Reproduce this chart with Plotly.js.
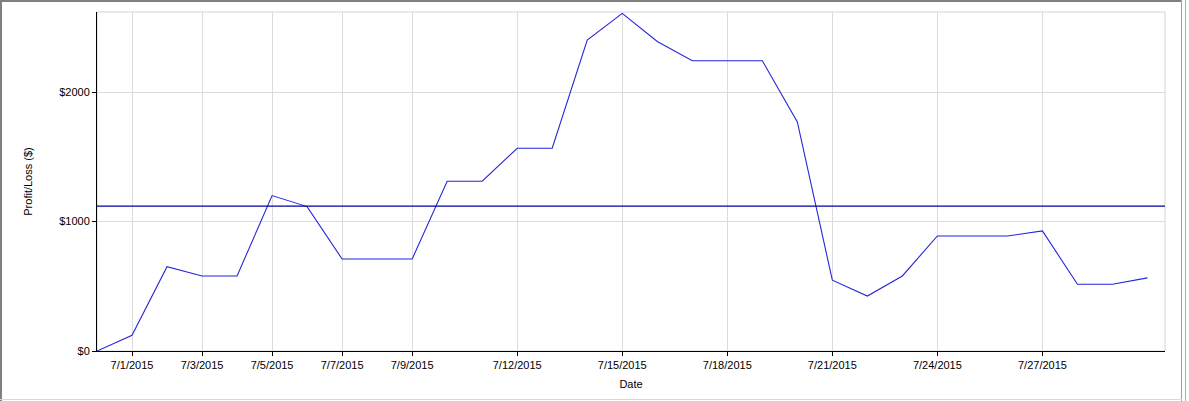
<!DOCTYPE html>
<html>
<head>
<meta charset="utf-8">
<script src="https://cdn.plot.ly/plotly-3.0.1.min.js"></script>
<style>
  html, body { margin: 0; padding: 0; background: #fff; overflow: hidden; }
  #wrap { position: relative; width: 1189px; height: 401px; }
  #chart { position: absolute; left: 0; top: 0; width: 1189px; height: 401px; }
  .fr { position: absolute; pointer-events: none; }
</style>
</head>
<body>
<div id="wrap">
  <div id="chart"></div>
  <div class="fr" style="left:0;top:0;width:1182px;height:2px;background:#808080;"></div>
  <div class="fr" style="left:0;top:0;width:2px;height:401px;background:#808080;"></div>
  <div class="fr" style="left:1181px;top:0;width:1px;height:401px;background:#a0a0a0;"></div>
  <div class="fr" style="left:1185px;top:0;width:1px;height:401px;background:#b0b0b0;"></div>
  <div class="fr" style="left:0;top:399px;width:1182px;height:1px;background:#d8d8d8;"></div>
</div>
<script>
const dates = [
  '2015-06-30','2015-07-01','2015-07-02','2015-07-03','2015-07-04','2015-07-05',
  '2015-07-06','2015-07-07','2015-07-08','2015-07-09','2015-07-10','2015-07-11',
  '2015-07-12','2015-07-13','2015-07-14','2015-07-15','2015-07-16','2015-07-17',
  '2015-07-18','2015-07-19','2015-07-20','2015-07-21','2015-07-22','2015-07-23',
  '2015-07-24','2015-07-25','2015-07-26','2015-07-27','2015-07-28','2015-07-29',
  '2015-07-30'
];
const profitLoss = [
  0, 121, 652, 580, 580, 1201,
  1116, 711, 711, 711, 1312, 1312,
  1567, 1567, 2403, 2609, 2392, 2243,
  2243, 2243, 1770, 547, 425, 580,
  889, 889, 889, 928, 516, 516,
  565
];
const averageValue = 1120;
const xTickVals = ['2015-07-01','2015-07-03','2015-07-05','2015-07-07','2015-07-09',
  '2015-07-12','2015-07-15','2015-07-18','2015-07-21','2015-07-24','2015-07-27'];
const xTickText = ['7/1/2015','7/3/2015','7/5/2015','7/7/2015','7/9/2015',
  '7/12/2015','7/15/2015','7/18/2015','7/21/2015','7/24/2015','7/27/2015'];
const yTickVals = [0, 1000, 2000];
const yTickText = ['$0', '$1000', '$2000'];

const traces = [{
  x: dates,
  y: profitLoss,
  type: 'scatter',
  mode: 'lines',
  line: { color: '#2525dc', width: 1.1 },
  hoverinfo: 'x+y'
}];

const layout = {
  width: 1189, height: 401,
  margin: { l: 97, r: 24, t: 12, b: 50 },
  paper_bgcolor: '#ffffff',
  plot_bgcolor: '#ffffff',
  showlegend: false,
  font: { family: 'Liberation Sans, Arial, sans-serif', size: 11, color: '#000' },
  xaxis: {
    type: 'date',
    range: ['2015-06-30', '2015-07-30 12:00'],
    tickvals: xTickVals,
    ticktext: xTickText,
    ticks: 'outside', ticklen: 4, tickcolor: '#000', tickwidth: 1,
    showgrid: true, gridcolor: '#dcdcdc', gridwidth: 1,
    showline: true, linecolor: '#000', linewidth: 1,
    zeroline: false,
    tickfont: { size: 11, color: '#000' },
    title: { text: 'Date', font: { size: 11, color: '#000' }, standoff: 10 }
  },
  yaxis: {
    range: [0, 2620],
    tickvals: yTickVals,
    ticktext: yTickText,
    ticks: 'outside', ticklen: 4, tickcolor: '#000', tickwidth: 1,
    showgrid: true, gridcolor: '#dcdcdc', gridwidth: 1,
    showline: true, linecolor: '#000', linewidth: 1,
    zeroline: false,
    tickfont: { size: 11, color: '#000' },
    title: { text: 'Profit/Loss ($)', font: { size: 11, color: '#000' }, standoff: 24 }
  },
  shapes: [
    { type: 'rect', xref: 'paper', yref: 'paper', x0: 0, x1: 1, y0: 0, y1: 1,
      line: { color: '#d4d4d4', width: 1 }, layer: 'below' },
    { type: 'line', xref: 'paper', yref: 'y', x0: 0, x1: 1, y0: averageValue, y1: averageValue,
      line: { color: '#0000a0', width: 1.3 } }
  ]
};

Plotly.newPlot('chart', traces, layout, { displayModeBar: false, staticPlot: true });
</script>
</body>
</html>
